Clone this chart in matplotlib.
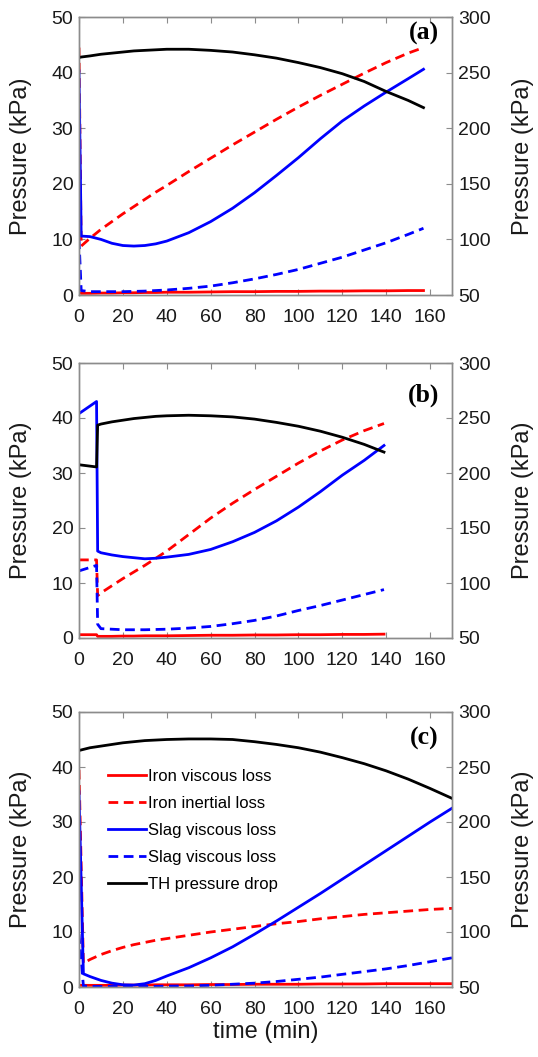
import matplotlib
matplotlib.use("Agg")
import matplotlib.pyplot as plt

plt.rcParams['font.family'] = ['Liberation Sans', 'DejaVu Sans']

# ---------------- data (left axis: kPa, right axis: kPa) ----------------
# Panel (a)
t_a = [0, 1, 5, 10, 15, 20, 25, 30, 35, 40, 50, 60, 70, 80, 90, 100, 110, 120, 130, 140, 150, 157]
iron_visc_a = [0.5, 0.3, 0.3, 0.35, 0.35, 0.4, 0.4, 0.45, 0.45, 0.5, 0.5, 0.55, 0.6, 0.6, 0.65, 0.65, 0.7, 0.7, 0.75, 0.75, 0.8, 0.8]
iron_inert_a = [44.5, 8.8, 10.2, 11.8, 13.2, 14.6, 15.9, 17.2, 18.5, 19.7, 22.2, 24.6, 27.0, 29.3, 31.6, 33.8, 35.9, 37.9, 39.9, 41.8, 43.5, 44.5]
slag_visc_a = [40.3, 10.6, 10.5, 10.0, 9.3, 8.9, 8.8, 8.9, 9.2, 9.7, 11.2, 13.2, 15.6, 18.4, 21.5, 24.7, 28.1, 31.3, 34.0, 36.5, 38.9, 40.6]
slag_inert_a = [10.0, 0.8, 0.6, 0.6, 0.6, 0.6, 0.65, 0.7, 0.8, 0.9, 1.2, 1.6, 2.2, 2.9, 3.7, 4.6, 5.7, 6.8, 8.1, 9.4, 10.9, 12.0]
th_drop_a = [263.5, 264.0, 265.0, 266.5, 267.5, 268.5, 269.5, 270.0, 270.5, 271.0, 271.0, 270.0, 268.5, 266.0, 263.0, 259.0, 254.5, 249.0, 242.0, 233.0, 225.0, 218.5]

# Panel (b)
t_b = [0, 8, 8.5, 10, 15, 20, 25, 30, 35, 40, 50, 60, 70, 80, 90, 100, 110, 120, 130, 139]
iron_visc_b = [0.6, 0.6, 0.3, 0.3, 0.3, 0.35, 0.35, 0.4, 0.4, 0.4, 0.45, 0.5, 0.5, 0.55, 0.55, 0.6, 0.6, 0.65, 0.65, 0.7]
iron_inert_b = [14.2, 14.2, 7.7, 8.2, 9.5, 10.8, 12.0, 13.2, 14.5, 15.8, 18.8, 21.8, 24.5, 27.0, 29.4, 31.8, 34.0, 36.0, 37.7, 39.0]
slag_visc_b = [40.8, 43.0, 15.8, 15.5, 15.1, 14.8, 14.6, 14.4, 14.5, 14.7, 15.2, 16.1, 17.5, 19.2, 21.3, 23.8, 26.6, 29.6, 32.3, 35.0]
slag_inert_b = [12.2, 13.2, 2.5, 1.7, 1.6, 1.5, 1.5, 1.5, 1.55, 1.6, 1.8, 2.1, 2.6, 3.2, 4.0, 5.0, 5.9, 6.9, 7.9, 8.8]
th_drop_b = [207.5, 205.5, 243.5, 244.5, 246.5, 248.0, 249.5, 250.5, 251.5, 252.0, 252.5, 252.0, 251.0, 249.0, 246.0, 242.5, 238.0, 232.5, 226.0, 219.0]

# Panel (c)
t_c = [0, 2, 5, 10, 15, 20, 25, 30, 35, 40, 50, 60, 70, 80, 90, 100, 110, 120, 130, 140, 150, 160, 170]
iron_visc_c = [0.3, 0.3, 0.3, 0.3, 0.3, 0.35, 0.35, 0.35, 0.4, 0.4, 0.4, 0.45, 0.45, 0.5, 0.5, 0.5, 0.55, 0.55, 0.55, 0.6, 0.6, 0.6, 0.6]
iron_inert_c = [39.5, 4.3, 5.0, 5.9, 6.6, 7.2, 7.7, 8.1, 8.5, 8.8, 9.4, 10.0, 10.5, 11.0, 11.5, 11.9, 12.4, 12.8, 13.2, 13.5, 13.8, 14.1, 14.3]
slag_visc_c = [35.5, 2.4, 1.9, 1.2, 0.7, 0.4, 0.35, 0.6, 1.2, 2.0, 3.5, 5.3, 7.3, 9.6, 12.0, 14.5, 17.0, 19.6, 22.2, 24.8, 27.4, 30.0, 32.5]
slag_inert_c = [9.6, 0.2, 0.1, 0.1, 0.1, 0.1, 0.1, 0.1, 0.12, 0.15, 0.2, 0.3, 0.5, 0.7, 1.0, 1.4, 1.8, 2.3, 2.8, 3.3, 3.9, 4.6, 5.3]
th_drop_c = [265.0, 266.0, 267.5, 269.0, 270.5, 272.0, 273.0, 274.0, 274.5, 275.0, 275.5, 275.5, 275.0, 273.0, 270.5, 267.5, 263.5, 258.5, 253.0, 246.5, 239.0, 230.5, 221.5]

labels = ['Iron viscous loss', 'Iron inertial loss', 'Slag viscous loss',
          'Slag viscous loss', 'TH pressure drop']
panel_tags = ['(a)', '(b)', '(c)']
x_ticks = [0, 20, 40, 60, 80, 100, 120, 140, 160]
left_ticks = [0, 10, 20, 30, 40, 50]
right_ticks = [50, 100, 150, 200, 250, 300]

panels = [
    (t_a, iron_visc_a, iron_inert_a, slag_visc_a, slag_inert_a, th_drop_a),
    (t_b, iron_visc_b, iron_inert_b, slag_visc_b, slag_inert_b, th_drop_b),
    (t_c, iron_visc_c, iron_inert_c, slag_visc_c, slag_inert_c, th_drop_c),
]

# ---------------- figure ----------------
fig = plt.figure(figsize=(5.38, 10.57), dpi=100)
W, H = 538, 1057
boxes = [(17, 295), (363, 638), (712, 987)]   # top, bottom in pixels
tag_y = [0.942, 0.884, 0.905]
L, R = 79, 452

RED = '#ff0000'
BLUE = '#0000ff'
SPINE = '#8c8c8c'
TXT = '#1a1a1a'
FS_TICK = 14
FS_LAB = 17

for i, (box, data) in enumerate(zip(boxes, panels)):
    top, bot = box
    ax = fig.add_axes([L / W, 1 - bot / H, (R - L) / W, (bot - top) / H])
    ax2 = ax.twinx()
    t, iv, ii, sv, si, th = data
    dash = (3.5, 2.0)
    h1, = ax.plot(t, iv, color=RED, lw=2)
    h2, = ax.plot(t, ii, color=RED, lw=2, dashes=dash)
    h3, = ax.plot(t, sv, color=BLUE, lw=2)
    h4, = ax.plot(t, si, color=BLUE, lw=2, dashes=dash)
    h5, = ax2.plot(t, th, color='black', lw=2)

    ax.set_xlim(0, 170)
    ax.set_ylim(0, 50)
    ax2.set_ylim(50, 300)
    ax.set_xticks(x_ticks)
    ax.set_yticks(left_ticks)
    ax2.set_yticks(right_ticks)

    for a in (ax, ax2):
        for s in a.spines.values():
            s.set_color(SPINE)
            s.set_linewidth(1.0)
    ax.tick_params(axis='both', direction='in', length=4, width=0.8, color=SPINE,
                   labelsize=FS_TICK, labelcolor=TXT, top=True, right=False, pad=4)
    ax.tick_params(axis='x', pad=10)
    ax2.tick_params(axis='y', direction='in', length=4, width=0.8, color=SPINE,
                    labelsize=FS_TICK, labelcolor=TXT, pad=4.5)

    ax.set_ylabel('Pressure (kPa)', fontsize=FS_LAB, color=TXT)
    ax2.set_ylabel('Pressure (kPa)', fontsize=FS_LAB, color=TXT, rotation=90)
    ax.yaxis.set_label_coords(-0.126, 0.5)
    ax2.yaxis.set_label_coords(1.161, 0.5)

    ax.text(0.925, tag_y[i], panel_tags[i], transform=ax.transAxes,
            fontsize=18.5, fontweight='bold', family='Liberation Serif',
            ha='center', va='center', color='black')

    if i == 2:
        ax.set_xlabel('time (min)', fontsize=FS_LAB, color=TXT, labelpad=2)
        ax.legend([h1, h2, h3, h4, h5], labels, loc='upper left',
                  bbox_to_anchor=(0.0786, 0.792), frameon=False, fontsize=12,
                  handlelength=2.24, handletextpad=0.12, labelspacing=0.71,
                  borderaxespad=0.0, borderpad=0.0)

fig.savefig('out.png', dpi=100)
